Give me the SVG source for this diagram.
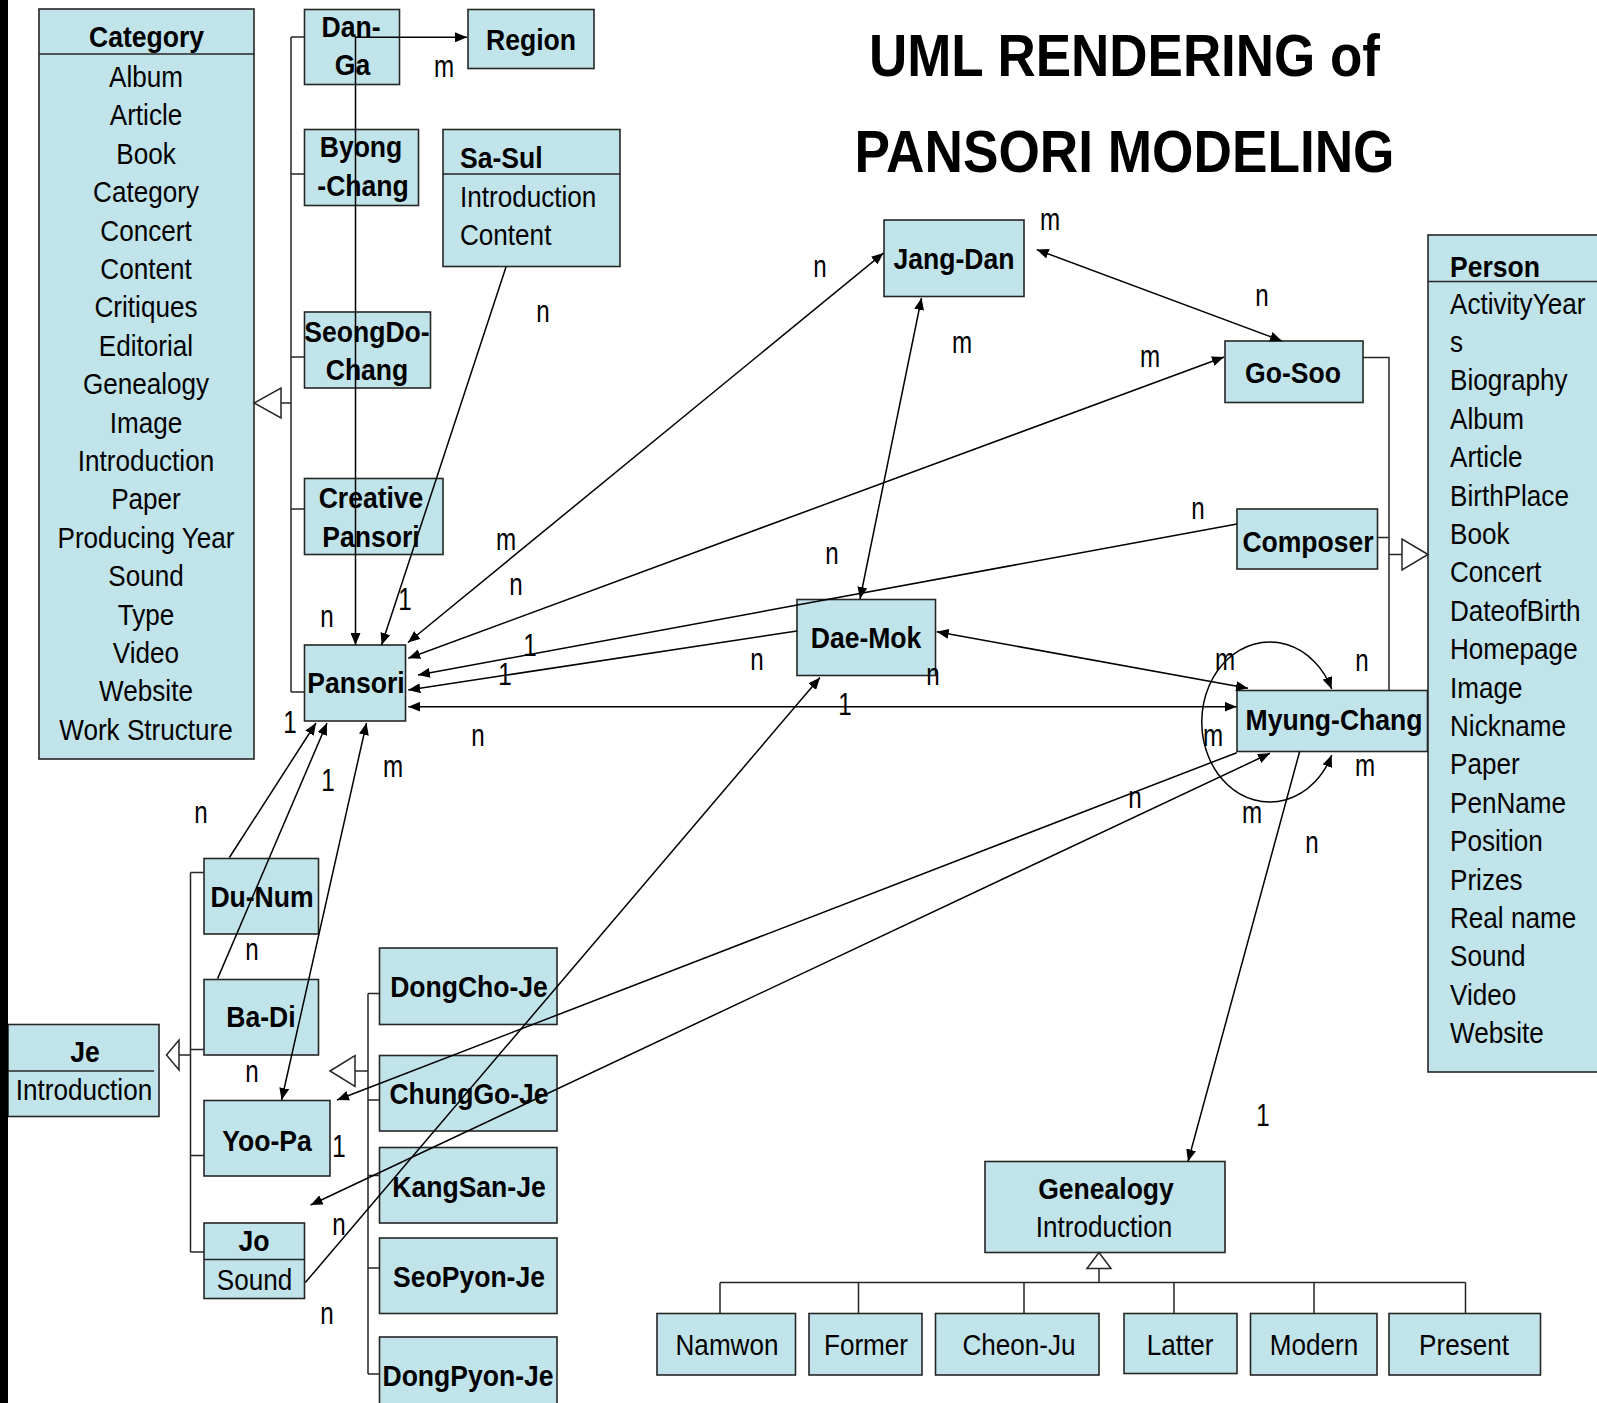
<svg xmlns="http://www.w3.org/2000/svg" width="1597" height="1403" viewBox="0 0 1597 1403">
<defs>
<style>
.bx{fill:#c1e4ea;stroke:#262626;stroke-width:1.6}
.sep{stroke:#262626;stroke-width:1.6;fill:none}
.ln{stroke:#000;stroke-width:1.5;fill:none}
.tr{stroke:#262626;stroke-width:1.5;fill:none}
.gen{fill:#fff;stroke:#262626;stroke-width:1.5}
.ar{marker-end:url(#a)}
.ar2{marker-start:url(#a);marker-end:url(#a)}
text{font-family:"Liberation Sans",Arial,Helvetica,sans-serif;fill:#000}
.r{font-size:29px}
.b{font-size:29.5px;font-weight:bold}
.c{text-anchor:middle}
.lb{font-size:31px;text-anchor:middle}
.ttl{font-size:60px;font-weight:bold;text-anchor:middle}
</style>
<marker id="a" viewBox="0 0 12 10" refX="12" refY="5" markerWidth="12" markerHeight="10" markerUnits="userSpaceOnUse" orient="auto-start-reverse"><path d="M0,0L12,5L0,10z" fill="#000"/></marker>
</defs>
<rect x="0" y="0" width="1597" height="1403" fill="#fff"/>

<g id="title">
<text class="ttl" x="1124.5" y="75.5" textLength="511" lengthAdjust="spacingAndGlyphs">UML RENDERING of</text>
<text class="ttl" x="1124.5" y="171.5" textLength="540" lengthAdjust="spacingAndGlyphs">PANSORI MODELING</text>
</g>

<g id="category">
<rect class="bx" x="39" y="9" width="215" height="750"/>
<line class="sep" x1="39" y1="54" x2="254" y2="54"/>
<text class="b c" transform="translate(146.5 47) scale(.9 1)">Category</text>
<g class="r c">
<text transform="translate(146 87) scale(.9 1)">Album</text>
<text transform="translate(146 125.4) scale(.9 1)">Article</text>
<text transform="translate(146 163.8) scale(.9 1)">Book</text>
<text transform="translate(146 202.2) scale(.9 1)">Category</text>
<text transform="translate(146 240.6) scale(.9 1)">Concert</text>
<text transform="translate(146 279) scale(.9 1)">Content</text>
<text transform="translate(146 317.4) scale(.9 1)">Critiques</text>
<text transform="translate(146 355.8) scale(.9 1)">Editorial</text>
<text transform="translate(146 394.2) scale(.9 1)">Genealogy</text>
<text transform="translate(146 432.6) scale(.9 1)">Image</text>
<text transform="translate(146 471) scale(.9 1)">Introduction</text>
<text transform="translate(146 509.4) scale(.9 1)">Paper</text>
<text transform="translate(146 547.8) scale(.9 1)">Producing Year</text>
<text transform="translate(146 586.2) scale(.9 1)">Sound</text>
<text transform="translate(146 624.6) scale(.9 1)">Type</text>
<text transform="translate(146 663) scale(.9 1)">Video</text>
<text transform="translate(146 701.4) scale(.9 1)">Website</text>
<text transform="translate(146 739.8) scale(.9 1)">Work Structure</text>
</g>
</g>

<g id="category-tree">
<polygon class="gen" points="254,403 281,388 281,418"/>
<path class="tr" d="M281,403H291M291,37V692M291,37H304.5M291,174H304.5M291,357H304.5M291,509H304.5M291,692H304.5"/>
</g>

<g id="dan-ga">
<rect class="bx" x="304.5" y="9.5" width="95" height="75"/>
<text class="b c" transform="translate(351 37) scale(.9 1)">Dan-</text>
<text class="b c" transform="translate(352.5 75) scale(.9 1)">Ga</text>
</g>
<g id="region">
<rect class="bx" x="468" y="9.5" width="126" height="59"/>
<text class="b c" transform="translate(531 50) scale(.9 1)">Region</text>
</g>
<g id="byong-chang">
<rect class="bx" x="304.5" y="129.5" width="114" height="76"/>
<text class="b c" transform="translate(361 157) scale(.9 1)">Byong</text>
<text class="b c" transform="translate(363 196) scale(.9 1)">-Chang</text>
</g>
<g id="seongdo-chang">
<rect class="bx" x="304.5" y="312" width="126" height="76"/>
<text class="b c" transform="translate(367 341.5) scale(.9 1)">SeongDo-</text>
<text class="b c" transform="translate(367 380) scale(.9 1)">Chang</text>
</g>
<g id="creative-pansori">
<rect class="bx" x="304.5" y="478.5" width="138.5" height="76"/>
<text class="b c" transform="translate(371 508) scale(.9 1)">Creative</text>
<text class="b c" transform="translate(371 546.5) scale(.9 1)">Pansori</text>
</g>
<g id="pansori">
<rect class="bx" x="304.5" y="645" width="101" height="76"/>
<text class="b c" transform="translate(356 693) scale(.9 1)">Pansori</text>
</g>
<g id="sa-sul">
<rect class="bx" x="443" y="129.5" width="177" height="137"/>
<line class="sep" x1="443" y1="174" x2="620" y2="174"/>
<text class="b" transform="translate(460 168) scale(.9 1)">Sa-Sul</text>
<text class="r" transform="translate(460 206.5) scale(.9 1)">Introduction</text>
<text class="r" transform="translate(460 245) scale(.9 1)">Content</text>
</g>
<g id="jang-dan">
<rect class="bx" x="884" y="220" width="140" height="76.5"/>
<text class="b c" transform="translate(954 269) scale(.9 1)">Jang-Dan</text>
</g>
<g id="dae-mok">
<rect class="bx" x="797" y="599.5" width="138.5" height="76"/>
<text class="b c" transform="translate(866 648) scale(.9 1)">Dae-Mok</text>
</g>
<g id="go-soo">
<rect class="bx" x="1225" y="341" width="138" height="61.5"/>
<text class="b c" transform="translate(1293 383) scale(.9 1)">Go-Soo</text>
</g>
<g id="composer">
<rect class="bx" x="1237" y="509" width="140.5" height="60"/>
<text class="b c" transform="translate(1308 552) scale(.9 1)">Composer</text>
</g>
<g id="myung-chang">
<rect class="bx" x="1237" y="690.5" width="190.5" height="61"/>
<text class="b c" transform="translate(1334 730) scale(.9 1)">Myung-Chang</text>
</g>
<g id="person">
<rect class="bx" x="1428" y="235" width="185" height="837"/>
<line class="sep" x1="1428" y1="281.5" x2="1600" y2="281.5"/>
<text class="b" transform="translate(1450 277) scale(.9 1)">Person</text>
<g class="r">
<text transform="translate(1450 313.6) scale(.9 1)">ActivityYear</text>
<text transform="translate(1450 352) scale(.9 1)">s</text>
<text transform="translate(1450 390.4) scale(.9 1)">Biography</text>
<text transform="translate(1450 428.8) scale(.9 1)">Album</text>
<text transform="translate(1450 467.2) scale(.9 1)">Article</text>
<text transform="translate(1450 505.6) scale(.9 1)">BirthPlace</text>
<text transform="translate(1450 544) scale(.9 1)">Book</text>
<text transform="translate(1450 582.4) scale(.9 1)">Concert</text>
<text transform="translate(1450 620.8) scale(.9 1)">DateofBirth</text>
<text transform="translate(1450 659.2) scale(.9 1)">Homepage</text>
<text transform="translate(1450 697.6) scale(.9 1)">Image</text>
<text transform="translate(1450 736) scale(.9 1)">Nickname</text>
<text transform="translate(1450 774.4) scale(.9 1)">Paper</text>
<text transform="translate(1450 812.8) scale(.9 1)">PenName</text>
<text transform="translate(1450 851.2) scale(.9 1)">Position</text>
<text transform="translate(1450 889.6) scale(.9 1)">Prizes</text>
<text transform="translate(1450 928) scale(.9 1)">Real name</text>
<text transform="translate(1450 966.4) scale(.9 1)">Sound</text>
<text transform="translate(1450 1004.8) scale(.9 1)">Video</text>
<text transform="translate(1450 1043.2) scale(.9 1)">Website</text>
</g>
</g>
<g id="person-tree">
<path class="tr" d="M1363,357.5H1389V690.5M1377.5,537.5H1389M1389,554.5H1402"/>
<polygon class="gen" points="1428,554.5 1402,539 1402,570"/>
</g>

<g id="genealogy">
<rect class="bx" x="985" y="1161.5" width="240" height="91"/>
<text class="b c" transform="translate(1106 1198.5) scale(.9 1)">Genealogy</text>
<text class="r c" transform="translate(1104 1236.5) scale(.9 1)">Introduction</text>
</g>
<g id="genealogy-tree">
<path class="tr" d="M1099,1268.5V1282.5M720,1282.5H1465.5M720,1282.5V1313.5M858.5,1282.5V1313.5M1024,1282.5V1313.5M1174,1282.5V1313.5M1314,1282.5V1313.5M1465.5,1282.5V1313.5"/>
<polygon class="gen" points="1099,1252.5 1087,1268.5 1111,1268.5"/>
</g>
<g id="namwon"><rect class="bx" x="657" y="1313.5" width="138.5" height="61.5"/><text class="r c" transform="translate(727 1355) scale(.9 1)">Namwon</text></g>
<g id="former"><rect class="bx" x="809" y="1313.5" width="113" height="61.5"/><text class="r c" transform="translate(866 1355) scale(.9 1)">Former</text></g>
<g id="cheon-ju"><rect class="bx" x="935.5" y="1313.5" width="163.5" height="61.5"/><text class="r c" transform="translate(1019 1355) scale(.9 1)">Cheon-Ju</text></g>
<g id="latter"><rect class="bx" x="1124" y="1313.5" width="113" height="60"/><text class="r c" transform="translate(1180 1355) scale(.9 1)">Latter</text></g>
<g id="modern"><rect class="bx" x="1250.5" y="1313.5" width="126.5" height="61.5"/><text class="r c" transform="translate(1314 1355) scale(.9 1)">Modern</text></g>
<g id="present"><rect class="bx" x="1389" y="1313.5" width="151.5" height="61.5"/><text class="r c" transform="translate(1464 1355) scale(.9 1)">Present</text></g>

<g id="je">
<rect class="bx" x="8" y="1024.5" width="151" height="92"/>
<line class="sep" x1="8" y1="1071" x2="154" y2="1071"/>
<text class="b c" transform="translate(85 1062) scale(.9 1)">Je</text>
<text class="r c" transform="translate(84 1100) scale(.9 1)">Introduction</text>
</g>
<g id="je-tree">
<polygon class="gen" points="166.5,1055 179,1040 179,1070"/>
<path class="tr" d="M179,1055H190.5M190.5,872.5V1252M190.5,872.5H204M190.5,1049.5H204M190.5,1155.5H204M190.5,1252H204"/>
</g>
<g id="du-num"><rect class="bx" x="204" y="858.5" width="114.5" height="75.5"/><text class="b c" transform="translate(262 906.5) scale(.9 1)">Du-Num</text></g>
<g id="ba-di"><rect class="bx" x="204" y="979.5" width="114.5" height="75.5"/><text class="b c" transform="translate(261 1026.5) scale(.9 1)">Ba-Di</text></g>
<g id="yoo-pa"><rect class="bx" x="204" y="1100.5" width="126" height="75.5"/><text class="b c" transform="translate(267 1150.5) scale(.9 1)">Yoo-Pa</text></g>
<g id="jo">
<rect class="bx" x="204" y="1223" width="100.5" height="75.5"/>
<line class="sep" x1="204" y1="1259.5" x2="304.5" y2="1259.5"/>
<text class="b c" transform="translate(254 1251) scale(.9 1)">Jo</text>
<text class="r c" transform="translate(254.5 1289.5) scale(.9 1)">Sound</text>
</g>
<g id="je-sub-tree">
<polygon class="gen" points="330,1071 355,1055.5 355,1086.5"/>
<path class="tr" d="M355,1071H368M368,993.5V1374M368,993.5H379.5M368,1100H379.5M368,1175.5H379.5M368,1268H379.5M368,1374H379.5"/>
</g>
<g id="dongcho-je"><rect class="bx" x="379.5" y="948" width="177.5" height="76.5"/><text class="b c" transform="translate(469 996.5) scale(.9 1)">DongCho-Je</text></g>
<g id="chunggo-je"><rect class="bx" x="379.5" y="1055.5" width="177.5" height="75.5"/><text class="b c" transform="translate(469 1104) scale(.9 1)">ChungGo-Je</text></g>
<g id="kangsan-je"><rect class="bx" x="379.5" y="1147.5" width="177.5" height="75.5"/><text class="b c" transform="translate(469 1196.5) scale(.9 1)">KangSan-Je</text></g>
<g id="seopyon-je"><rect class="bx" x="379.5" y="1238" width="177.5" height="75.5"/><text class="b c" transform="translate(469 1286.5) scale(.9 1)">SeoPyon-Je</text></g>
<g id="dongpyon-je"><rect class="bx" x="379.5" y="1337" width="177.5" height="80"/><text class="b c" transform="translate(468 1386) scale(.9 1)">DongPyon-Je</text></g>

<g id="connectors">
<polyline class="ln ar2" points="355.5,645 355.5,37.3 467,37.3"/>
<line class="ln ar" x1="506" y1="267" x2="381.6" y2="645"/>
<line class="ln ar2" x1="408" y1="642.5" x2="883.5" y2="253"/>
<line class="ln ar2" x1="408.3" y1="658.3" x2="1224" y2="357"/>
<line class="ln ar" x1="1237" y1="524" x2="418" y2="675"/>
<line class="ln ar" x1="797" y1="631" x2="408.3" y2="690"/>
<line class="ln ar2" x1="408.3" y1="706.7" x2="1236.5" y2="706.7"/>
<line class="ln ar2" x1="921.5" y1="298" x2="860" y2="599"/>
<line class="ln ar2" x1="1036.7" y1="249.6" x2="1282" y2="341"/>
<line class="ln ar2" x1="936.7" y1="631.7" x2="1248" y2="688.3"/>
<path class="ln ar2" d="M1331.7,689A68,80 0 1 0 1331.7,755"/>
<line class="ln ar" x1="1236.7" y1="752.7" x2="337" y2="1100"/>
<line class="ln ar2" x1="1270" y1="753.3" x2="310.6" y2="1205"/>
<line class="ln ar" x1="1299.6" y1="751.7" x2="1188" y2="1161.5"/>
<line class="ln ar" x1="305.3" y1="1282.6" x2="820" y2="677.5"/>
<line class="ln ar" x1="229.4" y1="857.5" x2="316" y2="723"/>
<line class="ln ar" x1="217.6" y1="978.6" x2="327" y2="723"/>
<line class="ln ar2" x1="366.5" y1="723" x2="281.6" y2="1100"/>
</g>

<g id="labels" class="lb">
<text transform="translate(444 77) scale(.78 1)">m</text>
<text transform="translate(543 322) scale(.78 1)">n</text>
<text transform="translate(405 610) scale(.78 1)">1</text>
<text transform="translate(327 627) scale(.78 1)">n</text>
<text transform="translate(506 550) scale(.78 1)">m</text>
<text transform="translate(516 595) scale(.78 1)">n</text>
<text transform="translate(530 656) scale(.78 1)">1</text>
<text transform="translate(505 685) scale(.78 1)">1</text>
<text transform="translate(757 670) scale(.78 1)">n</text>
<text transform="translate(478 746) scale(.78 1)">n</text>
<text transform="translate(393 777) scale(.78 1)">m</text>
<text transform="translate(845 715) scale(.78 1)">1</text>
<text transform="translate(820 277) scale(.78 1)">n</text>
<text transform="translate(1050 230) scale(.78 1)">m</text>
<text transform="translate(962 353) scale(.78 1)">m</text>
<text transform="translate(1150 367) scale(.78 1)">m</text>
<text transform="translate(832 564) scale(.78 1)">n</text>
<text transform="translate(933 685) scale(.78 1)">n</text>
<text transform="translate(1262 306) scale(.78 1)">n</text>
<text transform="translate(1198 519) scale(.78 1)">n</text>
<text transform="translate(1225 670) scale(.78 1)">m</text>
<text transform="translate(1362 671) scale(.78 1)">n</text>
<text transform="translate(1213 746) scale(.78 1)">m</text>
<text transform="translate(1135 808) scale(.78 1)">n</text>
<text transform="translate(1365 776) scale(.78 1)">m</text>
<text transform="translate(1252 823) scale(.78 1)">m</text>
<text transform="translate(1312 853) scale(.78 1)">n</text>
<text transform="translate(1263 1126) scale(.78 1)">1</text>
<text transform="translate(201 823) scale(.78 1)">n</text>
<text transform="translate(290 733) scale(.78 1)">1</text>
<text transform="translate(328 791) scale(.78 1)">1</text>
<text transform="translate(252 960) scale(.78 1)">n</text>
<text transform="translate(252 1082) scale(.78 1)">n</text>
<text transform="translate(339 1157) scale(.78 1)">1</text>
<text transform="translate(339 1235) scale(.78 1)">n</text>
<text transform="translate(327 1324) scale(.78 1)">n</text>
</g>

<rect id="left-bar" x="0" y="0" width="8" height="1403" fill="#000"/>
</svg>
